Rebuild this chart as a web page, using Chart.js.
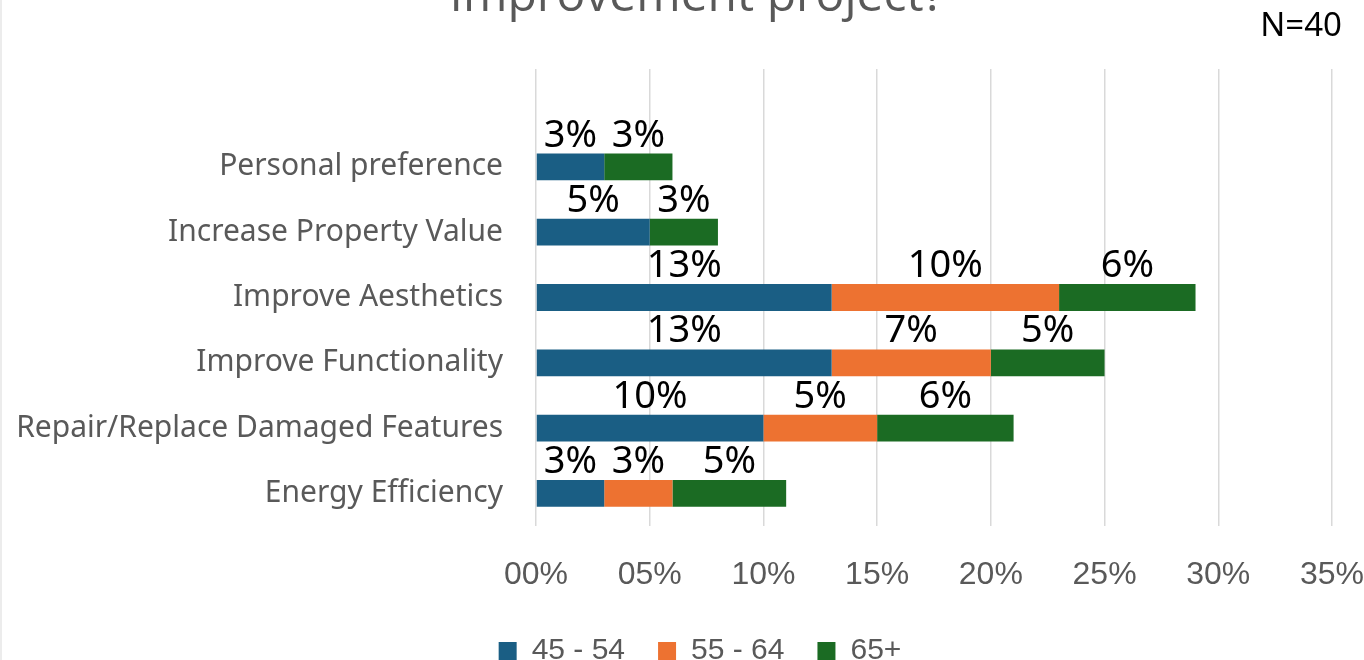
<!DOCTYPE html>
<html>
<head>
<meta charset="utf-8">
<script src="https://cdn.jsdelivr.net/npm/chart.js@4.4.1/dist/chart.umd.min.js"></script>
<style>
  html, body { margin: 0; padding: 0; background: #ffffff; }
  #wrap { position: relative; width: 1364px; height: 660px; overflow: hidden; background: #fff; }
  #wrap canvas { position: absolute; left: 0; top: 0; }
  #title { position: absolute; left: 0; width: 1394px; top: -31px; text-align: center;
           font-family: "Open Sans", "Noto Sans", sans-serif; font-size: 48px; line-height: 48px; color: #595959; white-space: nowrap; }
  #note { position: absolute; right: 22px; top: 7px; font-family: "Noto Sans", sans-serif;
          font-size: 33px; line-height: 33px; color: #000; white-space: nowrap; }
  #edge { position: absolute; left: 0; top: 0; width: 2px; height: 660px; background: #ececec; }
</style>
</head>
<body>
<div id="wrap">
  <canvas id="c" width="1364" height="660"></canvas>
  <div id="title">Improvement project?</div>
  <div id="note">N=40</div>
  <div id="edge"></div>
</div>
<script>
// ---- data ----
const categories = ["", "Personal preference", "Increase Property Value", "Improve Aesthetics",
                    "Improve Functionality", "Repair/Replace Damaged Features", "Energy Efficiency"];
const seriesNames = ["45 - 54", "55 - 64", "65+"];
const age45to54 = [null, 3, 5, 13, 13, 10, 3];
const age55to64 = [null, null, null, 10, 7, 5, 3];
const age65plus = [null, 3, 3, 6, 5, 6, 5];
const xTickLabels = ["00%", "05%", "10%", "15%", "20%", "25%", "30%", "35%"];

const colors = ["#1A5E84", "#ED7231", "#1B6B23"];

const valueLabels = {
  id: 'valueLabels',
  afterDatasetsDraw(chart) {
    const ctx = chart.ctx;
    ctx.save();
    ctx.font = '38px "Noto Sans", "Open Sans", sans-serif';
    ctx.fillStyle = '#000000';
    ctx.textAlign = 'center';
    ctx.textBaseline = 'alphabetic';
    chart.data.datasets.forEach((ds, di) => {
      const meta = chart.getDatasetMeta(di);
      meta.data.forEach((el, i) => {
        const v = ds.data[i];
        if (v === null || v === undefined) return;
        const cx = (el.x + el.base) / 2;
        const top = el.y - el.height / 2;
        ctx.fillText(v + '%', cx, top - 7);
      });
    });
    ctx.restore();
  }
};

new Chart(document.getElementById('c'), {
  type: 'bar',
  data: {
    labels: categories,
    datasets: [
      { label: seriesNames[0], data: age45to54, backgroundColor: colors[0], borderWidth: 0 },
      { label: seriesNames[1], data: age55to64, backgroundColor: colors[1], borderWidth: 0 },
      { label: seriesNames[2], data: age65plus, backgroundColor: colors[2], borderWidth: 0 }
    ]
  },
  options: {
    indexAxis: 'y',
    responsive: false,
    animation: false,
    categoryPercentage: 1.0,
    barPercentage: 0.41,
    layout: { padding: { top: 69, right: -36, left: 0, bottom: -16 } },
    scales: {
      x: {
        stacked: true,
        min: 0, max: 35,
        ticks: {
          stepSize: 5,
          color: '#595959',
          font: { family: '"Liberation Sans", Arial, sans-serif', size: 32 },
          padding: 0,
          maxRotation: 0,
          callback: (v, i) => xTickLabels[i]
        },
        grid: { color: '#d9d9d9', lineWidth: 1.5, drawTicks: true, tickLength: 30, tickColor: 'rgba(0,0,0,0)' },
        border: { display: false },
        afterFit: (s) => { s.height = 77; }
      },
      y: {
        stacked: true,
        ticks: {
          color: '#595959',
          font: { family: '"Noto Sans", "Open Sans", sans-serif', size: 30 },
          padding: 25,
          autoSkip: false
        },
        grid: { display: false },
        border: { display: false },
        afterFit: (s) => { s.width = 536; }
      }
    },
    plugins: {
      legend: {
        position: 'bottom',
        labels: {
          boxWidth: 18, boxHeight: 18, padding: 33,
          color: '#595959',
          font: { family: '"Liberation Sans", Arial, sans-serif', size: 30 }
        }
      },
      title: { display: false },
      tooltip: { enabled: false }
    }
  },
  plugins: [valueLabels]
});
</script>
</body>
</html>
